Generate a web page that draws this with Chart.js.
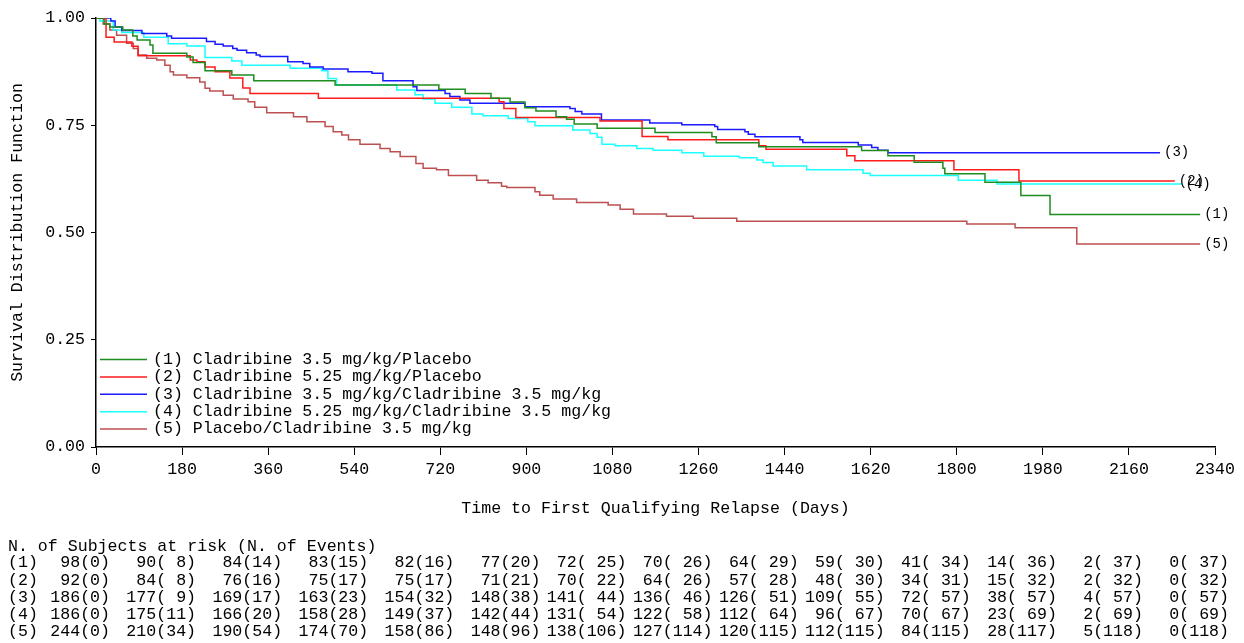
<!DOCTYPE html>
<html>
<head>
<meta charset="utf-8">
<style>
  html, body { margin: 0; padding: 0; background: #fff; }
  canvas { display: block; }
</style>
<script src="https://cdn.jsdelivr.net/npm/chart.js@4/dist/chart.umd.min.js"></script>
</head>
<body>
<canvas id="kmChart" width="1244" height="643"></canvas>
<script>
// Kaplan-Meier estimates (days, survival)
const days1 = [0, 17, 29, 56, 77, 86, 113, 119, 190, 203, 228, 284, 330, 500, 717, 772, 826, 866, 897, 920, 962, 984, 1000, 1048, 1169, 1288, 1297, 1386, 1601, 1656, 1711, 1771, 1775, 1859, 1934, 1995, 2309];
const surv1 = [1.000, 0.986, 0.979, 0.972, 0.958, 0.949, 0.937, 0.918, 0.909, 0.896, 0.877, 0.867, 0.854, 0.844, 0.834, 0.824, 0.813, 0.804, 0.791, 0.783, 0.770, 0.764, 0.753, 0.743, 0.733, 0.723, 0.709, 0.700, 0.691, 0.679, 0.664, 0.650, 0.637, 0.617, 0.586, 0.542, 0.542];

const days2 = [0, 21, 38, 75, 88, 197, 211, 228, 249, 280, 307, 322, 465, 843, 853, 878, 1054, 1142, 1196, 1386, 1401, 1570, 1587, 1794, 1930, 2256];
const surv2 = [1.000, 0.955, 0.944, 0.934, 0.912, 0.902, 0.898, 0.886, 0.875, 0.860, 0.837, 0.824, 0.813, 0.805, 0.789, 0.768, 0.760, 0.724, 0.716, 0.702, 0.694, 0.679, 0.667, 0.646, 0.620, 0.620];

const days3 = [0, 31, 40, 54, 96, 148, 158, 231, 249, 266, 286, 295, 315, 335, 343, 401, 433, 447, 475, 527, 577, 600, 663, 671, 730, 740, 761, 782, 897, 991, 1002, 1016, 1057, 1158, 1225, 1294, 1300, 1357, 1364, 1378, 1472, 1478, 1594, 1622, 1635, 1656, 2225];
const surv3 = [1.000, 0.993, 0.979, 0.971, 0.964, 0.958, 0.953, 0.945, 0.939, 0.935, 0.929, 0.925, 0.919, 0.914, 0.910, 0.898, 0.894, 0.886, 0.881, 0.875, 0.871, 0.854, 0.840, 0.831, 0.824, 0.817, 0.809, 0.801, 0.793, 0.789, 0.782, 0.776, 0.762, 0.755, 0.751, 0.747, 0.740, 0.735, 0.729, 0.723, 0.716, 0.710, 0.704, 0.698, 0.692, 0.686, 0.686];

const days4 = [0, 8, 36, 54, 100, 151, 190, 228, 284, 305, 406, 472, 485, 503, 629, 667, 684, 709, 744, 786, 809, 862, 903, 918, 997, 1033, 1048, 1058, 1085, 1131, 1165, 1225, 1271, 1345, 1382, 1395, 1416, 1486, 1604, 1619, 1803, 1884, 2270];
const surv4 = [1.000, 0.993, 0.972, 0.966, 0.955, 0.940, 0.935, 0.908, 0.900, 0.890, 0.883, 0.877, 0.859, 0.844, 0.832, 0.821, 0.811, 0.801, 0.792, 0.776, 0.772, 0.766, 0.758, 0.749, 0.739, 0.731, 0.722, 0.706, 0.702, 0.696, 0.692, 0.686, 0.678, 0.674, 0.669, 0.663, 0.655, 0.646, 0.638, 0.633, 0.622, 0.613, 0.613];

const days5 = [0, 15, 29, 43, 64, 78, 88, 106, 127, 144, 155, 162, 190, 217, 228, 238, 266, 287, 318, 332, 357, 413, 441, 479, 496, 514, 528, 552, 594, 615, 636, 669, 684, 712, 737, 796, 820, 848, 859, 918, 928, 956, 1005, 1071, 1096, 1124, 1193, 1249, 1340, 1821, 1922, 2051, 2309];
const surv5 = [1.000, 0.986, 0.972, 0.960, 0.941, 0.929, 0.914, 0.906, 0.902, 0.890, 0.875, 0.867, 0.861, 0.851, 0.836, 0.830, 0.820, 0.811, 0.805, 0.792, 0.779, 0.770, 0.758, 0.747, 0.735, 0.727, 0.716, 0.706, 0.696, 0.688, 0.677, 0.661, 0.650, 0.646, 0.633, 0.622, 0.616, 0.608, 0.605, 0.595, 0.587, 0.578, 0.570, 0.564, 0.554, 0.543, 0.538, 0.533, 0.526, 0.520, 0.511, 0.473, 0.473];

// Subjects at risk / events table
const riskDays = [0, 180, 360, 540, 720, 900, 1080, 1260, 1440, 1620, 1800, 1980, 2160, 2340];
const risk1 = [98, 90, 84, 83, 82, 77, 72, 70, 64, 59, 41, 14, 2, 0];
const events1 = [0, 8, 14, 15, 16, 20, 25, 26, 29, 30, 34, 36, 37, 37];
const risk2 = [92, 84, 76, 75, 75, 71, 70, 64, 57, 48, 34, 15, 2, 0];
const events2 = [0, 8, 16, 17, 17, 21, 22, 26, 28, 30, 31, 32, 32, 32];
const risk3 = [186, 177, 169, 163, 154, 148, 141, 136, 126, 109, 72, 38, 4, 0];
const events3 = [0, 9, 17, 23, 32, 38, 44, 46, 51, 55, 57, 57, 57, 57];
const risk4 = [186, 175, 166, 158, 149, 142, 131, 122, 112, 96, 70, 23, 2, 0];
const events4 = [0, 11, 20, 28, 37, 44, 54, 58, 64, 67, 67, 69, 69, 69];
const risk5 = [244, 210, 190, 174, 158, 148, 138, 127, 120, 112, 84, 28, 5, 0];
const events5 = [0, 34, 54, 70, 86, 96, 106, 114, 115, 115, 115, 117, 118, 118];

const groupLabels = [
    '(1) Cladribine 3.5 mg/kg/Placebo',
    '(2) Cladribine 5.25 mg/kg/Placebo',
    '(3) Cladribine 3.5 mg/kg/Cladribine 3.5 mg/kg',
    '(4) Cladribine 5.25 mg/kg/Cladribine 3.5 mg/kg',
    '(5) Placebo/Cladribine 3.5 mg/kg'
];
const groupTags = ['(1)', '(2)', '(3)', '(4)', '(5)'];
const groupColors = ['#1E8C1E', '#FF1A1A', '#1A1AFF', '#1AFFFF', '#BD5050'];

const yTicks = [0, 0.25, 0.5, 0.75, 1];

const FONT = '"Liberation Mono", "DejaVu Sans Mono", monospace';
const FONT_SIZE = 16.6;

const allDays = [days1, days2, days3, days4, days5];
const allSurv = [surv1, surv2, surv3, surv4, surv5];
const allRisk = [risk1, risk2, risk3, risk4, risk5];
const allEvents = [events1, events2, events3, events4, events5];

const toPoints = (d, s) => d.map((t, i) => ({ x: t, y: s[i] }));

// "n(e)" with the events padded like the SAS table
const cell = (n, e, col) => {
    const w = col === 0 ? 0 : (col <= 5 ? 2 : 3);
    return n + '(' + String(e).padStart(w, ' ') + ')';
};

// legend, curve tags and at-risk table
const extrasPlugin = {
    id: 'extras',
    afterDraw(chart) {
        const { ctx, chartArea, scales: { x } } = chart;
        const metas = chart.data.datasets.map((_, i) => chart.getDatasetMeta(i));
        ctx.save();
        ctx.textBaseline = 'middle';
        ctx.fillStyle = '#000';

        // legend in lower left of plot
        ctx.font = FONT_SIZE + 'px ' + FONT;
        groupLabels.forEach((lbl, i) => {
            const ly = chartArea.bottom - 87.5 + i * 17.4;
            ctx.strokeStyle = groupColors[i];
            ctx.lineWidth = 1.5;
            ctx.beginPath();
            ctx.moveTo(chartArea.left + 4, ly);
            ctx.lineTo(chartArea.left + 51, ly);
            ctx.stroke();
            ctx.textAlign = 'left';
            ctx.fillText(lbl, chartArea.left + 57, ly);
        });

        // tags at curve ends
        ctx.font = '14px ' + FONT;
        metas.forEach((meta, i) => {
            const last = meta.data[meta.data.length - 1];
            ctx.textAlign = 'left';
            ctx.fillText(groupTags[i], last.x + 4, last.y);
        });

        // at risk table
        ctx.font = FONT_SIZE + 'px ' + FONT;
        ctx.textAlign = 'left';
        ctx.fillText('N. of Subjects at risk (N. of Events)', 8, 547);
        allRisk.forEach((row, r) => {
            const ry = 563 + r * 17.2;
            ctx.textAlign = 'left';
            ctx.fillText(groupTags[r], 8, ry);
            ctx.textAlign = 'right';
            row.forEach((n, c) => {
                ctx.fillText(cell(n, allEvents[r][c], c), x.getPixelForValue(riskDays[c]) + 14, ry);
            });
        });
        ctx.restore();
    }
};

Chart.defaults.font.family = FONT;
Chart.defaults.font.size = FONT_SIZE;
Chart.defaults.color = '#000';

new Chart(document.getElementById('kmChart').getContext('2d'), {
    type: 'scatter',
    data: {
        datasets: allDays.map((d, i) => ({
            label: groupLabels[i],
            data: toPoints(d, allSurv[i]),
            showLine: true,
            stepped: true,
            borderColor: groupColors[i],
            borderWidth: 1.5,
            pointRadius: 0,
            fill: false
        }))
    },
    options: {
        responsive: false,
        animation: false,
        layout: { padding: { left: 0, right: 29, top: 18, bottom: 116 } },
        plugins: {
            legend: { display: false },
            tooltip: { enabled: false }
        },
        scales: {
            x: {
                type: 'linear',
                min: 0,
                max: 2340,
                afterFit: s => { s.height = 80; },
                afterBuildTicks: s => { s.ticks = riskDays.map(v => ({ value: v })); },
                ticks: { padding: 5, callback: v => String(v) },
                grid: { drawOnChartArea: false, drawTicks: true, tickLength: 8, color: '#000' },
                border: { display: true, color: '#000', width: 1.5 },
                title: {
                    display: true,
                    text: 'Time to First Qualifying Relapse (Days)',
                    padding: { top: 0, bottom: 8 }
                }
            },
            y: {
                min: 0,
                max: 1,
                afterFit: s => { s.width = 96; },
                afterBuildTicks: s => { s.ticks = yTicks.map(v => ({ value: v })); },
                ticks: { padding: 6, callback: v => v.toFixed(2) },
                grid: { drawOnChartArea: false, drawTicks: true, tickLength: 5, color: '#000' },
                border: { display: true, color: '#000', width: 1.5 },
                title: {
                    display: true,
                    text: 'Survival Distribution Function',
                    padding: { top: 8, bottom: 0 }
                }
            }
        }
    },
    plugins: [extrasPlugin]
});
</script>
</body>
</html>
